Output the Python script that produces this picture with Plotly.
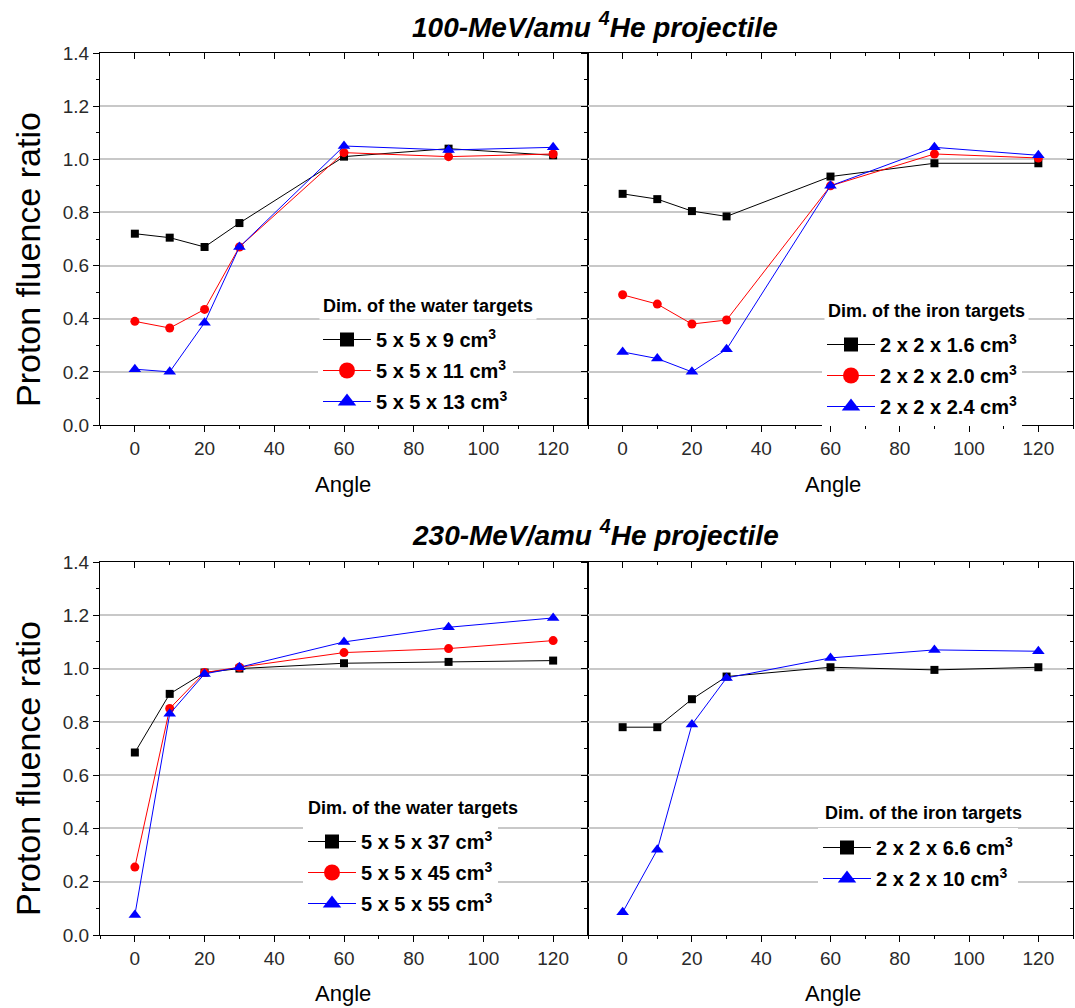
import plotly.graph_objects as go

angles = [0, 10, 20, 30, 60, 90, 120]

# 100-MeV/amu 4He, water targets
w100_9 = [0.72, 0.705, 0.67, 0.76, 1.01, 1.04, 1.015]
w100_11 = [0.39, 0.365, 0.435, 0.67, 1.025, 1.01, 1.02]
w100_13 = [0.21, 0.20, 0.385, 0.67, 1.05, 1.035, 1.045]
# 100-MeV/amu 4He, iron targets
fe100_16 = [0.87, 0.85, 0.805, 0.785, 0.935, 0.985, 0.985]
fe100_20 = [0.49, 0.455, 0.38, 0.395, 0.90, 1.02, 1.005]
fe100_24 = [0.275, 0.25, 0.20, 0.285, 0.90, 1.045, 1.015]
# 230-MeV/amu 4He, water targets
w230_37 = [0.685, 0.905, 0.985, 1.0, 1.02, 1.025, 1.03]
w230_45 = [0.255, 0.85, 0.985, 1.005, 1.06, 1.075, 1.105]
w230_55 = [0.075, 0.83, 0.98, 1.005, 1.10, 1.155, 1.19]
# 230-MeV/amu 4He, iron targets
fe230_66 = [0.78, 0.78, 0.885, 0.97, 1.005, 0.995, 1.005]
fe230_10 = [0.085, 0.32, 0.79, 0.965, 1.04, 1.07, 1.065]

titles = ["100-MeV/amu <sup>4</sup>He projectile", "230-MeV/amu <sup>4</sup>He projectile"]
legend_titles = ["Dim. of the water targets", "Dim. of the iron targets"]
y_ticks = [0.0, 0.2, 0.4, 0.6, 0.8, 1.0, 1.2, 1.4]
x_ticks = [0, 20, 40, 60, 80, 100, 120]

W, H = 1075, 1008
FONT = "Liberation Sans, Arial, sans-serif"

BLACK = dict(color="#000000", symbol="square", size=8, lsize=14)
RED = dict(color="#ff0000", symbol="circle", size=9, lsize=16)
BLUE = dict(color="#0000ff", symbol="triangle-up", size=11, lsize=16)

panels = [
    (1, "legend", [(w100_9, "5 x 5 x 9 cm<sup>3</sup>", BLACK),
                   (w100_11, "5 x 5 x 11 cm<sup>3</sup>", RED),
                   (w100_13, "5 x 5 x 13 cm<sup>3</sup>", BLUE)]),
    (2, "legend2", [(fe100_16, "2 x 2 x 1.6 cm<sup>3</sup>", BLACK),
                    (fe100_20, "2 x 2 x 2.0 cm<sup>3</sup>", RED),
                    (fe100_24, "2 x 2 x 2.4 cm<sup>3</sup>", BLUE)]),
    (3, "legend3", [(w230_37, "5 x 5 x 37 cm<sup>3</sup>", BLACK),
                    (w230_45, "5 x 5 x 45 cm<sup>3</sup>", RED),
                    (w230_55, "5 x 5 x 55 cm<sup>3</sup>", BLUE)]),
    (4, "legend4", [(fe230_66, "2 x 2 x 6.6 cm<sup>3</sup>", BLACK),
                    (fe230_10, "2 x 2 x 10 cm<sup>3</sup>", BLUE)]),
]

fig = go.Figure()

for idx, leg, series in panels:
    xa = "x" if idx == 1 else f"x{idx}"
    ya = "y" if idx == 1 else f"y{idx}"
    for k, (vals, name, mk) in enumerate(series):
        fig.add_trace(go.Scatter(
            x=angles, y=vals, name=name, mode="lines+markers",
            xaxis=xa, yaxis=ya, showlegend=False,
            line=dict(color=mk["color"], width=1),
            marker=dict(symbol=mk["symbol"], size=mk["size"], color=mk["color"],
                        line=dict(width=0)),
        ))
        # legend entry (larger symbol, as in the original legend)
        fig.add_trace(go.Scatter(
            x=[None], y=[None], name=name, mode="lines+markers",
            xaxis=xa, yaxis=ya, legend=leg, legendgroup=f"{leg}_{k}",
            line=dict(color=mk["color"], width=1),
            marker=dict(symbol=mk["symbol"], size=mk["lsize"], color=mk["color"],
                        line=dict(width=0)),
            hoverinfo="skip",
        ))
    fig.add_trace(go.Scatter(x=[], y=[], xaxis=f"x{idx+4}", yaxis=f"y{idx+4}",
                             showlegend=False, hoverinfo="skip"))

xdom = {1: [100 / W, 588 / W], 2: [588 / W, 1073 / W],
        3: [100 / W, 588 / W], 4: [588 / W, 1073 / W]}
ydom = {1: [1 - 425 / H, 1 - 53 / H], 2: [1 - 425 / H, 1 - 53 / H],
        3: [1 - 935 / H, 1 - 562 / H], 4: [1 - 935 / H, 1 - 562 / H]}

tickfont = dict(family=FONT, size=19, color="#2a2a2a")
layout = {}
for idx in range(1, 5):
    xk = "xaxis" if idx == 1 else f"xaxis{idx}"
    yk = "yaxis" if idx == 1 else f"yaxis{idx}"
    ya = "y" if idx == 1 else f"y{idx}"
    xa = "x" if idx == 1 else f"x{idx}"
    layout[xk] = dict(
        domain=xdom[idx], anchor=ya, range=[-10, 130], tickmode="array",
        tickvals=x_ticks, ticks="outside", ticklen=6, tickwidth=1, tickcolor="#000",
        minor=dict(ticks="outside", ticklen=3, dtick=10, tick0=0, tickcolor="#000"),
        showline=True, linecolor="#000", linewidth=1.2, mirror=True,
        showgrid=False, zeroline=False, tickfont=tickfont, fixedrange=True,
        automargin=False,
    )
    layout[yk] = dict(
        domain=ydom[idx], anchor=xa, range=[0, 1.4], tickmode="array",
        tickvals=y_ticks, ticktext=[f"{v:.1f}" for v in y_ticks],
        ticks="outside", ticklen=6, tickwidth=1, tickcolor="#000",
        minor=dict(ticks="outside", ticklen=3, dtick=0.1, tick0=0, tickcolor="#000",
                   showgrid=False),
        showline=True, linecolor="#000", linewidth=1.2, mirror=True,
        showgrid=True, gridcolor="#c8c8c8", gridwidth=1.5, zeroline=False,
        showticklabels=(idx in (1, 3)), tickfont=tickfont, fixedrange=True,
        automargin=False,
    )
    layout[f"xaxis{idx+4}"] = dict(
        overlaying=xa, anchor=f"y{idx+4}", side="top", range=[-10, 130],
        tickmode="array", tickvals=x_ticks, ticks="inside", ticklen=6,
        tickcolor="#000", minor=dict(ticks="inside", ticklen=3, dtick=10, tick0=0,
                                     tickcolor="#000"),
        showticklabels=False, showline=False, showgrid=False, zeroline=False,
        fixedrange=True, automargin=False,
    )
    layout[f"yaxis{idx+4}"] = dict(
        overlaying=ya, anchor=f"x{idx+4}", side="right", range=[0, 1.4],
        tickmode="array", tickvals=y_ticks, ticks="inside", ticklen=6,
        tickcolor="#000", minor=dict(ticks="inside", ticklen=3, dtick=0.1, tick0=0,
                                     tickcolor="#000"),
        showticklabels=False, showline=False, showgrid=False, zeroline=False,
        fixedrange=True, automargin=False,
    )

leg_common = dict(
    bgcolor="#ffffff", borderwidth=0, xanchor="left", yanchor="top",
    font=dict(family=FONT, size=20, color="#000", weight="bold"),
    itemwidth=48, tracegroupgap=2, itemclick=False, itemdoubleclick=False,
)
# (legend box left px, top px)
leg_pos = {"legend": (318, 320), "legend2": (822, 325),
           "legend3": (303, 822), "legend4": (818, 828)}
for lk, (px, py) in leg_pos.items():
    layout[lk] = dict(leg_common, x=px / W, y=1 - py / H)

annotations = []
for (tx, ty, t) in [(319, 306, 0), (824, 311, 1), (304, 808, 0), (821, 813, 1)]:
    annotations.append(dict(
        text=legend_titles[t], x=tx / W, y=1 - ty / H, xref="paper", yref="paper",
        showarrow=False, xanchor="left", yanchor="middle", bgcolor="#ffffff",
        borderpad=3,
        font=dict(family=FONT, size=18, color="#000", weight="bold"),
    ))
for t, cy in zip(titles, [25, 533]):
    annotations.append(dict(
        text=f"<b><i>{t}</i></b>", x=595 / W, y=1 - cy / H, xref="paper", yref="paper",
        showarrow=False, xanchor="center", yanchor="middle",
        font=dict(family="Liberation Sans Narrow, Liberation Sans, Arial", size=28,
                  color="#000"),
    ))
for cy in [260, 769]:
    annotations.append(dict(
        text="Proton fluence ratio", x=28 / W, y=1 - cy / H, xref="paper",
        yref="paper", showarrow=False, textangle=-90, xanchor="center",
        yanchor="middle", font=dict(family=FONT, size=34, color="#000"),
    ))
for cx in [343, 833]:
    for cy in [484, 993]:
        annotations.append(dict(
            text="Angle", x=cx / W, y=1 - cy / H, xref="paper", yref="paper",
            showarrow=False, xanchor="center", yanchor="middle",
            font=dict(family=FONT, size=22, color="#000"),
        ))

fig.update_layout(
    width=W, height=H, margin=dict(l=0, r=0, t=0, b=0, autoexpand=False),
    paper_bgcolor="#ffffff", plot_bgcolor="#ffffff",
    annotations=annotations, **layout,
)

fig.write_html("out.html", config={"displayModeBar": False})
